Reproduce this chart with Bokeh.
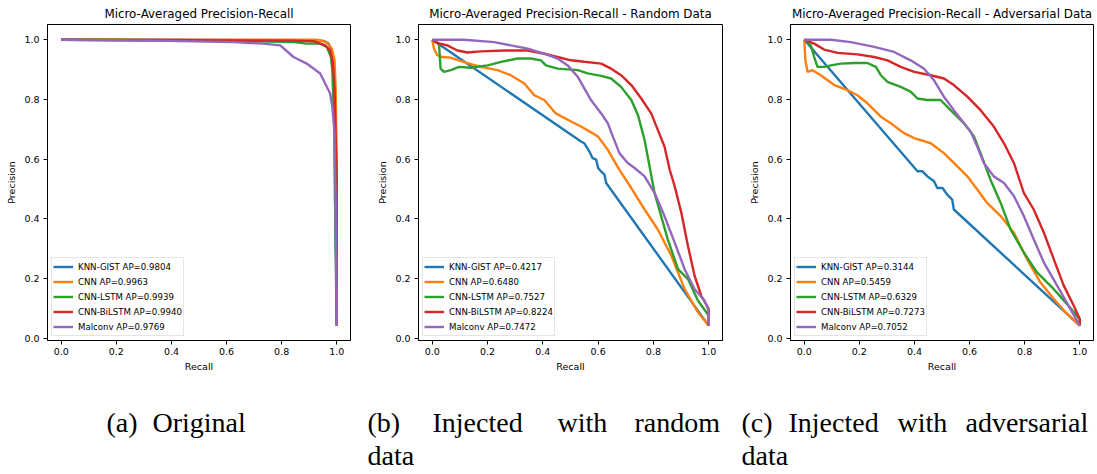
from bokeh.plotting import figure
from bokeh.layouts import column, row
from bokeh.models import Range1d, FixedTicker, ColumnDataSource
from bokeh.core.properties import value
from bokeh.embed import file_html
from bokeh.resources import INLINE

# ---------------- data ----------------
titles = ["Micro-Averaged Precision-Recall",
          "Micro-Averaged Precision-Recall - Random Data",
          "Micro-Averaged Precision-Recall - Adversarial Data"]
models = ["KNN-GIST", "CNN", "CNN-LSTM", "CNN-BiLSTM", "Malconv"]
ap_original = [0.9804, 0.9963, 0.9939, 0.9940, 0.9769]
ap_random = [0.4217, 0.6480, 0.7527, 0.8224, 0.7472]
ap_adversarial = [0.3144, 0.5459, 0.6329, 0.7273, 0.7052]
tick_values = [0.0, 0.2, 0.4, 0.6, 0.8, 1.0]
tick_labels = ["0.0", "0.2", "0.4", "0.6", "0.8", "1.0"]
x_label = "Recall"
y_label = "Precision"
caption_words = ["(a)", "Original",
                 "(b)", "Injected", "with", "random", "data",
                 "(c)", "Injected", "with", "adversarial", "data"]

# (a) Original
a_knn_r = [0.0, 0.5, 0.928, 0.952, 0.970, 0.982, 0.988, 0.992, 0.994, 0.998, 1.0]
a_knn_p = [1.0, 0.999, 0.998, 0.996, 0.987, 0.964, 0.937, 0.798, 0.464, 0.242, 0.042]
a_cnn_r = [0.0, 0.5, 0.843, 0.928, 0.964, 0.982, 0.992, 0.996, 1.0, 1.0]
a_cnn_p = [1.0, 1.0, 1.0, 1.0, 0.992, 0.970, 0.931, 0.842, 0.576, 0.042]
a_lstm_r = [0.0, 0.5, 0.843, 0.891, 0.940, 0.964, 0.979, 0.984, 0.992, 0.995, 1.0]
a_lstm_p = [1.0, 0.998, 0.992, 0.987, 0.987, 0.976, 0.942, 0.898, 0.687, 0.353, 0.042]
a_bilstm_r = [0.0, 0.5, 0.843, 0.915, 0.958, 0.976, 0.986, 0.992, 0.996, 1.0, 1.0]
a_bilstm_p = [1.0, 0.998, 0.997, 0.995, 0.981, 0.964, 0.920, 0.842, 0.687, 0.553, 0.042]
a_malconv_r = [0.0, 0.384, 0.626, 0.734, 0.795, 0.843, 0.891, 0.940, 0.958, 0.976, 0.984, 0.992, 0.996, 1.0]
a_malconv_p = [1.0, 0.996, 0.992, 0.987, 0.981, 0.942, 0.920, 0.887, 0.853, 0.820, 0.776, 0.687, 0.464, 0.042]

# (b) Random data
b_knn_r = [0.0, 0.538, 0.550, 0.568, 0.580, 0.593, 0.600, 0.610, 0.623, 0.629, 1.0]
b_knn_p = [1.0, 0.659, 0.653, 0.626, 0.603, 0.598, 0.570, 0.559, 0.548, 0.520, 0.042]
b_cnn_r = [0.0, 0.006, 0.018, 0.036, 0.066, 0.115, 0.175, 0.236, 0.284, 0.333, 0.369, 0.405,
           0.447, 0.502, 0.538, 0.599, 0.635, 0.677, 0.720, 0.768, 0.816, 0.865, 0.913, 0.961, 1.0]
b_cnn_p = [1.0, 0.970, 0.948, 0.942, 0.940, 0.925, 0.909, 0.898, 0.881, 0.853, 0.814, 0.798,
           0.753, 0.726, 0.709, 0.676, 0.631, 0.564, 0.503, 0.431, 0.364, 0.276, 0.164, 0.087, 0.042]
b_lstm_r = [0.0, 0.024, 0.030, 0.042, 0.067, 0.097, 0.139, 0.200, 0.260, 0.308, 0.357, 0.393,
            0.411, 0.453, 0.526, 0.562, 0.611, 0.647, 0.683, 0.720, 0.744, 0.768, 0.786, 0.804,
            0.828, 0.852, 0.889, 0.925, 0.961, 1.0, 1.0]
b_lstm_p = [1.0, 0.987, 0.903, 0.892, 0.898, 0.909, 0.906, 0.914, 0.928, 0.937, 0.937, 0.931,
            0.914, 0.903, 0.898, 0.887, 0.879, 0.870, 0.842, 0.798, 0.748, 0.664, 0.576, 0.487,
            0.409, 0.331, 0.231, 0.198, 0.126, 0.076, 0.042]
b_bilstm_r = [0.0, 0.018, 0.054, 0.091, 0.127, 0.175, 0.260, 0.345, 0.405, 0.453, 0.502, 0.550,
              0.611, 0.647, 0.683, 0.720, 0.756, 0.792, 0.816, 0.840, 0.859, 0.877, 0.901, 0.925,
              0.949, 0.973, 1.0, 1.0]
b_bilstm_p = [1.0, 0.989, 0.981, 0.964, 0.957, 0.961, 0.964, 0.964, 0.953, 0.942, 0.931, 0.926,
              0.920, 0.903, 0.881, 0.848, 0.803, 0.753, 0.698, 0.642, 0.564, 0.509, 0.420, 0.309,
              0.209, 0.142, 0.098, 0.042]
b_malconv_r = [0.0, 0.115, 0.224, 0.284, 0.345, 0.405, 0.453, 0.490, 0.526, 0.550, 0.574, 0.611,
               0.635, 0.653, 0.677, 0.707, 0.732, 0.768, 0.804, 0.840, 0.877, 0.913, 0.949, 0.985,
               1.0, 1.0]
b_malconv_p = [1.0, 1.0, 0.992, 0.981, 0.970, 0.953, 0.937, 0.914, 0.876, 0.837, 0.798, 0.753,
               0.720, 0.676, 0.620, 0.587, 0.570, 0.542, 0.487, 0.409, 0.320, 0.231, 0.164, 0.126,
               0.092, 0.042]

# (c) Adversarial data
c_knn_r = [0.0, 0.411, 0.429, 0.447, 0.471, 0.483, 0.502, 0.519, 0.537, 0.543, 1.0]
c_knn_p = [1.0, 0.559, 0.559, 0.542, 0.526, 0.503, 0.503, 0.481, 0.464, 0.431, 0.042]
c_cnn_r = [0.0, 0.004, 0.012, 0.030, 0.060, 0.109, 0.157, 0.193, 0.229, 0.278, 0.314, 0.362,
           0.399, 0.459, 0.507, 0.543, 0.592, 0.628, 0.664, 0.713, 0.761, 0.809, 0.857, 0.906,
           0.954, 1.0]
c_cnn_p = [1.0, 0.931, 0.892, 0.898, 0.881, 0.848, 0.831, 0.814, 0.787, 0.742, 0.720, 0.687,
           0.670, 0.653, 0.620, 0.587, 0.542, 0.498, 0.453, 0.409, 0.353, 0.264, 0.187, 0.131,
           0.081, 0.042]
c_lstm_r = [0.0, 0.012, 0.024, 0.036, 0.048, 0.072, 0.097, 0.133, 0.181, 0.229, 0.260, 0.278,
            0.302, 0.350, 0.386, 0.411, 0.447, 0.495, 0.531, 0.580, 0.616, 0.640, 0.676, 0.713,
            0.749, 0.797, 0.845, 0.906, 0.954, 1.0, 1.0]
c_lstm_p = [1.0, 0.992, 0.981, 0.942, 0.909, 0.909, 0.914, 0.920, 0.922, 0.922, 0.909, 0.881,
            0.859, 0.842, 0.826, 0.803, 0.798, 0.798, 0.764, 0.720, 0.676, 0.620, 0.531, 0.453,
            0.364, 0.287, 0.220, 0.164, 0.114, 0.064, 0.042]
c_bilstm_r = [0.0, 0.036, 0.072, 0.121, 0.193, 0.254, 0.302, 0.350, 0.399, 0.459, 0.507, 0.543,
              0.592, 0.640, 0.688, 0.725, 0.761, 0.797, 0.833, 0.870, 0.906, 0.942, 0.978, 1.0, 1.0]
c_bilstm_p = [1.0, 0.987, 0.967, 0.956, 0.951, 0.942, 0.931, 0.909, 0.892, 0.881, 0.870, 0.848,
              0.809, 0.764, 0.709, 0.653, 0.587, 0.487, 0.431, 0.353, 0.264, 0.176, 0.109, 0.064, 0.042]
c_malconv_r = [0.0, 0.097, 0.169, 0.254, 0.326, 0.386, 0.435, 0.471, 0.507, 0.543, 0.580, 0.604,
               0.628, 0.652, 0.688, 0.725, 0.761, 0.797, 0.833, 0.870, 0.918, 0.966, 1.0]
c_malconv_p = [1.0, 1.0, 0.992, 0.976, 0.959, 0.931, 0.903, 0.864, 0.809, 0.764, 0.720, 0.692,
               0.642, 0.587, 0.542, 0.520, 0.476, 0.409, 0.331, 0.253, 0.176, 0.098, 0.042]

colors = ["#1f77b4", "#ff7f0e", "#2ca02c", "#d62728", "#9467bd"]

panels = [
    (titles[0], ap_original, [(a_knn_r, a_knn_p), (a_cnn_r, a_cnn_p), (a_lstm_r, a_lstm_p),
                              (a_bilstm_r, a_bilstm_p), (a_malconv_r, a_malconv_p)]),
    (titles[1], ap_random, [(b_knn_r, b_knn_p), (b_cnn_r, b_cnn_p), (b_lstm_r, b_lstm_p),
                            (b_bilstm_r, b_bilstm_p), (b_malconv_r, b_malconv_p)]),
    (titles[2], ap_adversarial, [(c_knn_r, c_knn_p), (c_cnn_r, c_cnn_p), (c_lstm_r, c_lstm_p),
                                 (c_bilstm_r, c_bilstm_p), (c_malconv_r, c_malconv_p)]),
]

# layout: (width, border_left, border_right)
geoms = [(371, 47, 21), (371, 47, 20), (355, 48, 4)]

figs = []
for (title, aps, series), (w, bl, br) in zip(panels, geoms):
    p = figure(width=w, height=374, output_backend="svg", toolbar_location=None,
               x_range=Range1d(-0.05, 1.05), y_range=Range1d(-0.008, 1.051),
               min_border_left=bl, min_border_right=br, min_border_top=24,
               min_border_bottom=32, title=title)
    p.title.text_font = "DejaVu Sans"
    p.title.text_font_style = "normal"
    p.title.text_font_size = "11.9px"
    p.title.align = "center"
    p.title.text_color = "black"
    p.title.standoff = 7
    p.grid.visible = False
    p.outline_line_color = "black"
    p.outline_line_alpha = 1.0
    for ax in (p.xaxis[0], p.yaxis[0]):
        ax.ticker = FixedTicker(ticks=tick_values)
        ax.major_label_overrides = {v: l for v, l in zip(tick_values, tick_labels)}
        ax.major_label_text_font = "DejaVu Sans"
        ax.major_label_text_font_size = "9.5px"
        ax.major_label_text_color = "black"
        ax.axis_label_text_font = "DejaVu Sans"
        ax.axis_label_text_font_size = "9.5px"
        ax.axis_label_text_font_style = "normal"
        ax.axis_label_text_color = "black"
        ax.major_tick_in = 0
        ax.major_tick_out = 4
        ax.minor_tick_in = 0
        ax.minor_tick_out = 0
        ax.axis_line_color = "black"
        ax.major_tick_line_color = "black"
    p.xaxis.axis_label = x_label
    p.yaxis.axis_label = y_label
    p.xaxis.major_label_standoff = 3
    p.xaxis.axis_label_standoff = 3
    p.yaxis.major_label_standoff = 4
    p.yaxis.axis_label_standoff = 4
    for (r, pr), name, ap, c in zip(series, models, aps, colors):
        src = ColumnDataSource(dict(r=r, p=pr))
        p.line("r", "p", source=src, line_color=c, line_width=2.4,
               legend_label=f"{name} AP={ap:.4f}")
    lg = p.legend[0]
    lg.location = "bottom_left"
    lg.margin = 4
    lg.padding = 1
    lg.spacing = 0
    lg.glyph_width = 20
    lg.glyph_height = 15
    lg.label_height = 15
    lg.label_width = 60
    lg.label_standoff = 5
    lg.label_text_font = "DejaVu Sans"
    lg.label_text_font_size = "8.6px"
    lg.label_text_color = "black"
    lg.border_line_color = "#cccccc"
    lg.background_fill_alpha = 0.8
    figs.append(p)

# captions
cap = figure(width=1097, height=100, output_backend="svg", toolbar_location=None,
             x_range=Range1d(0, 1097), y_range=Range1d(100, 0),
             min_border=0, min_border_left=0, min_border_right=0,
             min_border_top=0, min_border_bottom=0)
cap.axis.visible = False
cap.grid.visible = False
cap.outline_line_color = None
cap_x = [106, 152, 367, 432, 557, 634, 367, 741, 788, 897, 965, 741]
cap_y = [48, 48, 48, 48, 48, 48, 81, 48, 48, 48, 48, 81]
cap.text(x="x", y="y", text="t", source=ColumnDataSource(dict(x=cap_x, y=cap_y, t=caption_words)),
         text_font=value("Liberation Serif"), text_font_size="28px",
         text_baseline="alphabetic", text_align="left", text_color="black")

layout = column(row(*figs, spacing=0), cap, spacing=0)
open("out.html", "w").write(file_html(layout, INLINE))
